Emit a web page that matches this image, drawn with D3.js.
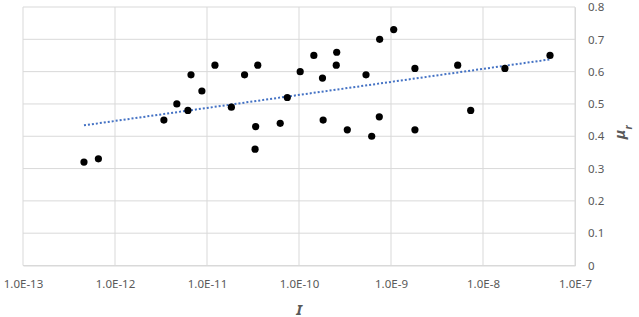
<!DOCTYPE html>
<html>
<head>
<meta charset="utf-8">
<script src="https://d3js.org/d3.v7.min.js"></script>
<style>
    body { margin: 0; background: #ffffff; }
    text { font-family: "Noto Sans", "Open Sans", sans-serif; }
</style>
</head>
<body>
<svg id="drawing_region"></svg>
<script>
// I values (x) and mu_r values (y)
const current_values = [
    4.6e-13, 6.6e-13, 3.4e-12, 4.7e-12, 6.2e-12, 6.7e-12, 8.8e-12, 1.22e-11,
    1.84e-11, 2.56e-11, 3.38e-11, 3.33e-11, 3.56e-11, 6.25e-11, 7.46e-11, 1.03e-10,
    1.45e-10, 1.80e-10, 1.83e-10, 2.57e-10, 2.54e-10, 3.35e-10, 5.35e-10, 6.17e-10,
    7.46e-10, 7.53e-10, 1.07e-9, 1.82e-9, 1.82e-9, 5.31e-9, 7.35e-9, 1.73e-8, 5.35e-8
];
const mu_values = [
    0.32, 0.33, 0.45, 0.50, 0.48, 0.59, 0.54, 0.62,
    0.49, 0.59, 0.43, 0.36, 0.62, 0.44, 0.52, 0.60,
    0.65, 0.58, 0.45, 0.66, 0.62, 0.42, 0.59, 0.40,
    0.46, 0.70, 0.73, 0.61, 0.42, 0.62, 0.48, 0.61, 0.65
];
const x_ticks = [1e-13, 1e-12, 1e-11, 1e-10, 1e-9, 1e-8, 1e-7];
const y_ticks = [0, 0.1, 0.2, 0.3, 0.4, 0.5, 0.6, 0.7, 0.8];

const data = current_values.map( (x, i) => ({ x: x, y: mu_values[i] }) );

class LogScatter {

    constructor( config, data ) {
        this.config = config;
        this.data = data;
        this.init();
    }

    init() {
        let self = this;

        self.svg = d3.select( self.config.parent )
            .attr('width', self.config.width)
            .attr('height', self.config.height);

        self.chart = self.svg.append('g')
            .attr('transform', `translate(${self.config.margin.left}, ${self.config.margin.top})`);

        self.inner_width = self.config.width - self.config.margin.left - self.config.margin.right;
        self.inner_height = self.config.height - self.config.margin.top - self.config.margin.bottom;

        self.xscale = d3.scaleLog()
            .domain( [x_ticks[0], x_ticks[x_ticks.length-1]] )
            .range( [0, self.inner_width] );

        self.yscale = d3.scaleLinear()
            .domain( [0, 0.8] )
            .range( [self.inner_height, 0] );
    }

    render() {
        let self = this;
        const grid = '#d9d9d9';
        const label = '#595959';

        // grid lines
        self.chart.append('g').selectAll('line')
            .data(y_ticks)
            .join('line')
            .attr('x1', 0).attr('x2', self.inner_width)
            .attr('y1', d => self.yscale(d)).attr('y2', d => self.yscale(d))
            .attr('stroke', grid).attr('stroke-width', 1);

        self.chart.append('g').selectAll('line')
            .data(x_ticks)
            .join('line')
            .attr('x1', d => self.xscale(d)).attr('x2', d => self.xscale(d))
            .attr('y1', 0).attr('y2', self.inner_height)
            .attr('stroke', grid).attr('stroke-width', 1);

        // axes (labels only)
        const xaxis = d3.axisBottom( self.xscale )
            .tickValues( x_ticks )
            .tickSize(0)
            .tickPadding(14)
            .tickFormat( d => d.toExponential(1).toUpperCase() );
        self.chart.append('g')
            .attr('transform', `translate(0, ${self.inner_height})`)
            .call( xaxis )
            .call( g => g.select('.domain').attr('stroke', grid) )
            .selectAll('text')
            .attr('fill', label)
            .attr('font-size', '11.5px');

        const yaxis = d3.axisRight( self.yscale )
            .tickValues( y_ticks )
            .tickSize(0)
            .tickPadding(13)
            .tickFormat( d => d === 0 ? '0' : d3.format('.1f')(d) );
        self.chart.append('g')
            .attr('transform', `translate(${self.inner_width}, 0)`)
            .call( yaxis )
            .call( g => g.select('.domain').attr('stroke', grid) )
            .selectAll('text')
            .attr('fill', label)
            .attr('font-size', '11.5px');

        // logarithmic trendline y = a ln(x) + b
        const lx = self.data.map( d => Math.log(d.x) );
        const mx = d3.mean(lx);
        const my = d3.mean(self.data, d => d.y);
        const sxy = d3.sum(self.data, (d, i) => (lx[i]-mx)*(d.y-my));
        const sxx = d3.sum(lx, v => (v-mx)*(v-mx));
        const a = sxy / sxx;
        const b = my - a*mx;
        const ext = d3.extent(self.data, d => d.x);
        const trend = ext.map( x => ({ x: x, y: a*Math.log(x) + b }) );

        self.chart.append('path')
            .datum(trend)
            .attr('d', d3.line().x(d => self.xscale(d.x)).y(d => self.yscale(d.y)))
            .attr('fill', 'none')
            .attr('stroke', '#4472c4')
            .attr('stroke-width', 2)
            .attr('stroke-dasharray', '2,2');

        // points
        self.chart.selectAll('circle')
            .data(self.data)
            .join('circle')
            .attr('cx', d => self.xscale(d.x))
            .attr('cy', d => self.yscale(d.y))
            .attr('r', 3.6)
            .attr('fill', '#000000');

        // axis titles
        self.chart.append('text')
            .attr('x', self.inner_width/2)
            .attr('y', self.inner_height + 49)
            .attr('text-anchor', 'middle')
            .attr('font-size', '15px')
            .attr('font-weight', 'bold')
            .attr('font-style', 'italic')
            .attr('fill', label)
            .text('I');

        const ylabel = self.chart.append('text')
            .attr('transform', `translate(${self.inner_width + 50}, ${self.inner_height/2 - 4}) rotate(-90)`)
            .attr('text-anchor', 'middle')
            .attr('font-size', '15px')
            .attr('font-weight', 'bold')
            .attr('font-style', 'italic')
            .attr('fill', label);
        ylabel.append('tspan').text('μ');
        ylabel.append('tspan').attr('baseline-shift', 'sub').attr('font-size', '10px').text('r');
    }
}

var config = {
    parent: '#drawing_region',
    width: 639,
    height: 317,
    margin: {top:7, right:64, bottom:51.5, left:23}
};

const plot = new LogScatter( config, data );
plot.render();
</script>
</body>
</html>
